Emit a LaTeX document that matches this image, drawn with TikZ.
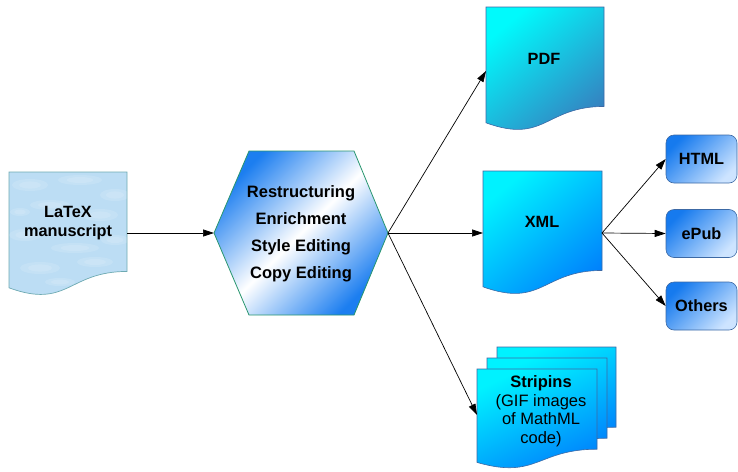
\documentclass[tikz,border=0pt]{standalone}
\usepackage{fontspec}
\setmainfont{Liberation Sans}
\usetikzlibrary{arrows.meta}
\definecolor{manfill}{RGB}{188,221,244}
\definecolor{manborder}{RGB}{110,170,178}
\definecolor{hexblue}{RGB}{28,126,240}
\definecolor{hexborder}{RGB}{40,150,110}
\definecolor{pdfA}{RGB}{0,250,252}
\definecolor{pdfB}{RGB}{55,125,190}
\definecolor{xmlA}{RGB}{0,242,255}
\definecolor{xmlB}{RGB}{0,125,252}
\definecolor{docborder}{RGB}{60,105,165}
\definecolor{fmtA}{RGB}{22,122,238}
\definecolor{fmtB}{RGB}{205,228,255}
% document shape (x,y,w,h,style) in px, y downward
\newcommand\docshape[5]{%
  \path[#5] (#1,#2) -- ({#1+#3},#2) -- ({#1+#3},{#2+0.802*#4})
    .. controls ({#1+0.5*#3},{#2+0.802*#4}) and ({#1+0.5*#3},{#2+1.1075*#4})
    .. (#1,{#2+0.934*#4}) -- cycle;}
\tikzset{
  arr/.style={draw=black, line width=0.7pt, -{Triangle[length=11pt,width=7pt]}},
  docman/.style={fill=manfill, draw=manborder, line width=0.7pt},
  blob/.style={fill=white, opacity=0.13},
  docpdf/.style={draw=docborder, line width=0.6pt, top color=pdfA, bottom color=pdfB, shading angle=40},
  docxml/.style={draw=docborder, line width=0.6pt, top color=xmlA, bottom color=xmlB, shading angle=40},
  docstrip/.style={draw=docborder, line width=0.6pt, top color=xmlA, bottom color=xmlB, shading angle=25},
  lbl/.style={font=\fontsize{16.3}{19}\selectfont\bfseries, align=center, inner sep=0pt},
  hexlbl/.style={font=\fontsize{16.5}{27}\selectfont\bfseries, align=center, inner sep=0pt},
  striplbl/.style={font=\fontsize{16.5}{18.5}\selectfont, align=center, inner sep=0pt},
  fmt/.style={draw=docborder, line width=0.6pt, rounded corners=8pt, minimum width=71pt, minimum height=48pt,
    inner sep=0pt, top color=fmtA, bottom color=fmtB, shading angle=45,
    font=\fontsize{16.3}{19}\selectfont\bfseries},
}
\begin{document}
\begin{tikzpicture}[x=1pt,y=-1pt]
\useasboundingbox (0,0) rectangle (738,471);
% LaTeX manuscript
\docshape{9}{172}{118}{124}{docman}
\begin{scope}
  \clip (9,172) -- (127,172) -- (127,271) .. controls (68,271) and (68,309) .. (9,288) -- cycle;
  \foreach \bx/\by/\rx/\ry in {30/185/18/6, 80/180/22/5, 115/195/15/6, 50/205/20/5, 100/215/18/6,
     25/235/16/6, 75/248/24/5, 115/240/14/5, 40/268/20/6, 95/262/18/5, 60/282/15/4, 20/212/10/4}
    {\fill[blob] (\bx,\by) ellipse [x radius=\rx pt, y radius=\ry pt];
     \fill[blob] (\bx,\by) ellipse [x radius=0.6*\rx pt, y radius=0.6*\ry pt];}
\end{scope}
\node[lbl] (man) at (68,223) {LaTeX\\manuscript};
\coordinate (manR) at (127,233);
% hexagon
\coordinate (hexL) at (214,233);
\coordinate (hexR) at (388,233);
\path[draw=hexborder, line width=0.8pt, top color=hexblue, bottom color=hexblue, middle color=white, shading angle=45]
  (hexL) -- (249,151) -- (354,151) -- (hexR) -- (354,315) -- (249,315) -- cycle;
\node[hexlbl] (hex) at (301,234) {Restructuring\\Enrichment\\Style Editing\\Copy Editing};
% PDF
\docshape{486}{7}{118}{124}{docpdf}
\node[lbl] (pdf) at (544,59) {PDF};
\coordinate (pdfL) at (486,71);
% XML
\docshape{483}{171}{119}{124}{docxml}
\node[lbl] (xml) at (542,222) {XML};
\coordinate (xmlL) at (483,233);
\coordinate (xmlR) at (602,233);
% Stripins
\docshape{497}{347}{119}{100}{docstrip}
\docshape{487}{358}{120}{100}{docstrip}
\docshape{477}{369}{120}{100}{docstrip}
\node[striplbl] (strip) at (541,411) {\textbf{Stripins}\\(GIF images\\of MathML\\code)};
\coordinate (stripL) at (477,415);
% format boxes
\node[fmt] (html) at (701.5,159) {HTML};
\node[fmt] (epub) at (701.5,233.5) {ePub};
\node[fmt] (others) at (701.5,306) {Others};
% connectors
\draw[arr] (manR) -- (hexL);
\draw[arr] (hexR) -- (pdfL);
\draw[arr] (hexR) -- (xmlL);
\draw[arr] (hexR) -- (stripL);
\draw[arr] (xmlR) -- (html.west);
\draw[arr] (xmlR) -- (epub.west);
\draw[arr] (xmlR) -- (others.west);
\end{tikzpicture}
\end{document}
